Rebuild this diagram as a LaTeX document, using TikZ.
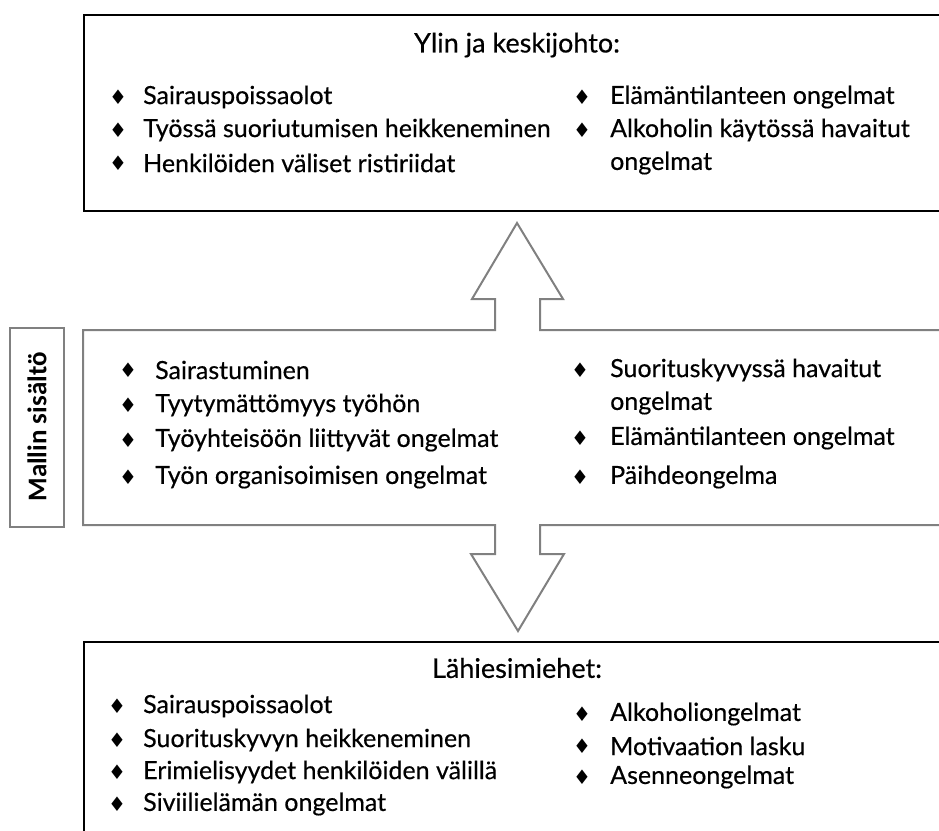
\documentclass[tikz,border=0pt]{standalone}
\usepackage{fontspec}
\setmainfont{Lato}[FakeBold=0.4]
\newfontfamily\bulletfont{DejaVu Sans}
\newfontfamily\labelfont{Carlito}
\begin{document}
\begin{tikzpicture}[x=1pt,y=-1pt,
  blackbox/.style={draw=black,line width=2.6pt},
  graybox/.style={draw=black!50,line width=2pt,line join=miter},
  sidebox/.style={draw=black!50,line width=2pt},
  item/.style={anchor=west,inner sep=0pt,font=\fontsize{25}{29}\selectfont},
  bul/.style={inner sep=0pt,font=\bulletfont\fontsize{20}{20}\selectfont},
  heading/.style={inner sep=0pt,font=\fontsize{27}{31}\selectfont}]
\useasboundingbox (0,0) rectangle (939,830);
\clip (0,0) rectangle (939,830);

% upper box
\draw[blackbox] (84,15) rectangle (970,211);
% central box merged with the two block arrows
\draw[graybox] (83,330) -- (495,330) -- (495,299) -- (472,299) -- (517,223)
  -- (563,299) -- (540,299) -- (540,330) -- (970,330) -- (970,525)
  -- (540,525) -- (540,554) -- (564,554) -- (518,631) -- (471,554)
  -- (495,554) -- (495,525) -- (83,525) -- cycle;
% lower box
\draw[blackbox] (84,642) rectangle (970,860);
% side label
\node[sidebox,minimum width=54pt,minimum height=199pt,inner sep=0pt] (side) at (37,427) {};
\node[rotate=90,font=\labelfont\bfseries\fontsize{27}{27}\selectfont] (sidetext) at (side.center) {Mallin sisältö};

% upper box contents
\node[heading] (h1) at (517,45) {Ylin ja keskijohto:};
\node[bul] (b1) at (118,97) {♦}; \node[item] (a1) at (143,97) {Sairauspoissaolot};
\node[bul] (b2) at (118,130) {♦}; \node[item] (a2) at (143,130) {Työssä suoriutumisen heikkeneminen};
\node[bul] (b3) at (118,163) {♦}; \node[item] (a3) at (143,163) {Henkilöiden väliset ristiriidat};
\node[bul] (b4) at (582,97) {♦}; \node[item] (a4) at (610,97) {Elämäntilanteen ongelmat};
\node[bul] (b5) at (582,130) {♦}; \node[item] (a5) at (610,130) {Alkoholin käytössä havaitut};
\node[item] (a6) at (610,163) {ongelmat};

% central box contents
\node[bul] (c1b) at (128,370) {♦}; \node[item] (c1) at (155,370) {Sairastuminen};
\node[bul] (c2b) at (128,405) {♦}; \node[item] (c2) at (155,405) {Tyytymättömyys työhön};
\node[bul] (c3b) at (128,440) {♦}; \node[item] (c3) at (155,440) {Työyhteisöön liittyvät ongelmat};
\node[bul] (c4b) at (128,477) {♦}; \node[item] (c4) at (155,477) {Työn organisoimisen ongelmat};
\node[bul] (c5b) at (580,370) {♦}; \node[item] (c5) at (610,370) {Suorituskyvyssä havaitut};
\node[item] (c6) at (610,403) {ongelmat};
\node[bul] (c7b) at (580,438) {♦}; \node[item] (c7) at (610,438) {Elämäntilanteen ongelmat};
\node[bul] (c8b) at (580,477) {♦}; \node[item] (c8) at (610,477) {Päihdeongelma};

% lower box contents
\node[heading] (h2) at (517,668) {Lähiesimiehet:};
\node[bul] (d1b) at (117,706) {♦}; \node[item] (d1) at (143,706) {Sairauspoissaolot};
\node[bul] (d2b) at (117,740) {♦}; \node[item] (d2) at (143,740) {Suorituskyvyn heikkeneminen};
\node[bul] (d3b) at (117,772) {♦}; \node[item] (d3) at (143,772) {Erimielisyydet henkilöiden välillä};
\node[bul] (d4b) at (117,804) {♦}; \node[item] (d4) at (143,804) {Siviilielämän ongelmat};
\node[bul] (d5b) at (582,714) {♦}; \node[item] (d5) at (610,714) {Alkoholiongelmat};
\node[bul] (d6b) at (582,746) {♦}; \node[item] (d6) at (610,746) {Motivaation lasku};
\node[bul] (d7b) at (582,777) {♦}; \node[item] (d7) at (610,777) {Asenneongelmat};
\end{tikzpicture}
\end{document}
